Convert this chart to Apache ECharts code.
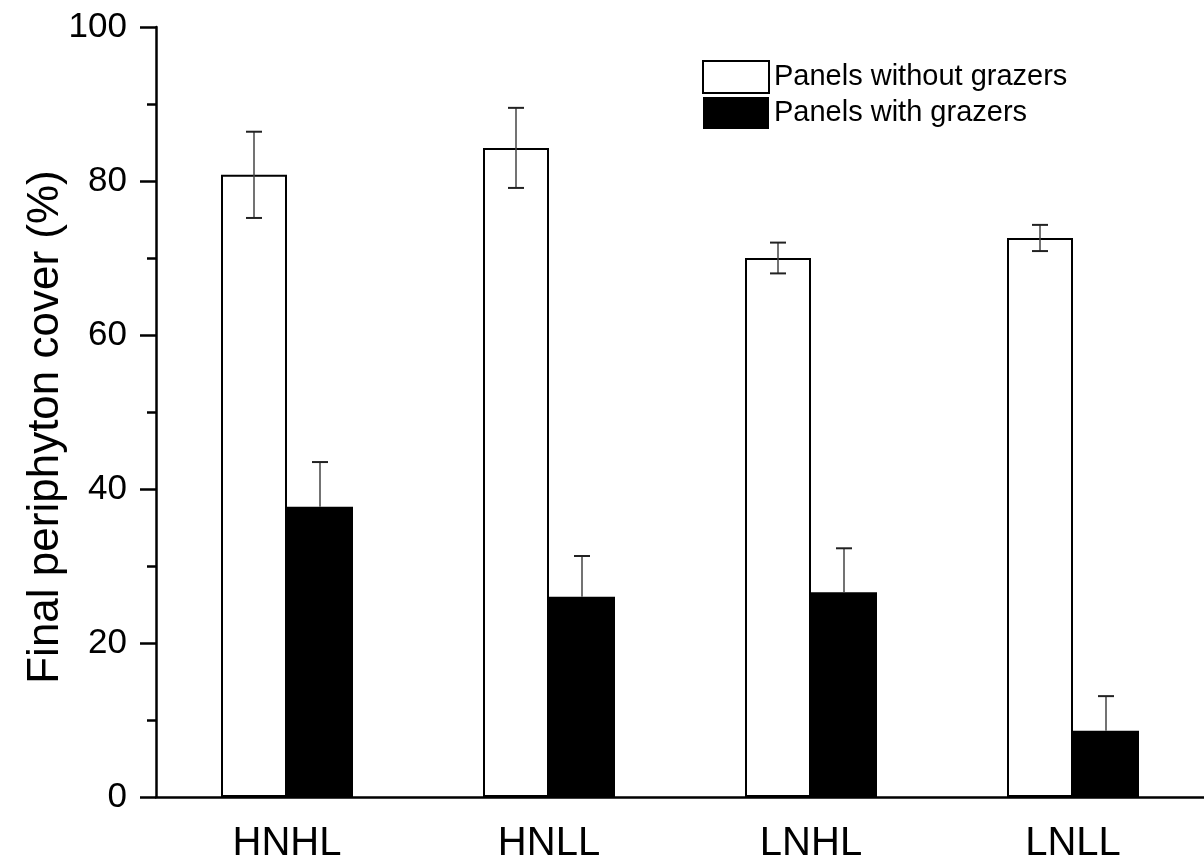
<!DOCTYPE html>
<html>
<head>
<meta charset="utf-8">
<script src="https://cdn.jsdelivr.net/npm/echarts@6/dist/echarts.min.js"></script>
<style>
html,body{margin:0;padding:0;background:#fff;}
#main{width:1204px;height:866px;}
</style>
</head>
<body>
<div id="main"></div>
<script>
const categories = ['HNHL', 'HNLL', 'LNHL', 'LNLL'];
const seriesNames = ['Panels without grazers', 'Panels with grazers'];
const withoutGrazers = [80.8, 84.3, 70.0, 72.6];
const withoutGrazersErr = [5.6, 5.2, 2.0, 1.7];
const withGrazers = [37.7, 26.0, 26.6, 8.6];
const withGrazersErr = [5.8, 5.3, 5.7, 4.5];
const yTicks = [0, 20, 40, 60, 80, 100];

const FONT = '"Liberation Sans", Arial, sans-serif';
const BAR_W = 66;

function errSeries(values, errs, side, both) {
  return {
    type: 'custom',
    z: 5,
    silent: true,
    data: values.map((v, i) => [i, v, errs[i]]),
    encode: { x: 0, y: 1 },
    renderItem: function (params, api) {
      const i = api.value(0), v = api.value(1), e = api.value(2);
      const c = api.coord([i, v]);
      const x = c[0] + side * BAR_W / 2;
      const top = api.coord([i, v + e])[1];
      const bot = both ? api.coord([i, v - e])[1] : c[1];
      const capHalf = 8;
      const children = [
        { type: 'line', shape: { x1: x, y1: top, x2: x, y2: bot }, style: { stroke: '#444', lineWidth: 1.5 } },
        { type: 'line', shape: { x1: x - capHalf, y1: top, x2: x + capHalf, y2: top }, style: { stroke: '#222', lineWidth: 2 } }
      ];
      if (both) {
        children.push({ type: 'line', shape: { x1: x - capHalf, y1: bot, x2: x + capHalf, y2: bot }, style: { stroke: '#222', lineWidth: 2 } });
      }
      return { type: 'group', children: children };
    }
  };
}

const chart = echarts.init(document.getElementById('main'), null, { renderer: 'canvas' });
chart.setOption({
  animation: false,
  backgroundColor: '#fff',
  textStyle: { fontFamily: FONT },
  grid: { left: 156, right: 0, top: 27, bottom: 69, containLabel: false },
  legend: {
    orient: 'vertical',
    left: 697,
    top: 55,
    itemWidth: 66,
    itemHeight: 32,
    itemGap: 3,
    selectedMode: false,
    data: [
      { name: seriesNames[0], icon: 'rect' },
      { name: seriesNames[1], icon: 'rect' }
    ],
    textStyle: { fontSize: 29, color: '#000', fontFamily: FONT, padding: [0, 0, 0, 0] }
  },
  xAxis: {
    type: 'category',
    data: categories,
    axisLine: { show: true, lineStyle: { color: '#000', width: 2.5 } },
    axisTick: { show: false },
    axisLabel: { fontSize: 40, color: '#000', margin: 27, fontFamily: FONT },
    splitLine: { show: false }
  },
  yAxis: {
    type: 'value',
    min: 0,
    max: 100,
    interval: 20,
    name: 'Final periphyton cover (%)',
    nameLocation: 'middle',
    nameRotate: 90,
    nameGap: 88,
    nameMoveOverlap: false,
    nameTextStyle: { fontSize: 44, color: '#000', fontFamily: FONT, padding: [0, 30, 0, 0] },
    axisLine: { show: true, lineStyle: { color: '#000', width: 2.5 } },
    axisTick: { show: true, length: 16, inside: false, lineStyle: { color: '#000', width: 2.5 } },
    minorTick: { show: true, splitNumber: 2, length: 9, lineStyle: { color: '#000', width: 2.5 } },
    axisLabel: { fontSize: 35, color: '#000', margin: 29, fontFamily: FONT,
      formatter: v => yTicks.includes(v) ? String(v) : '' },
    splitLine: { show: false },
    minorSplitLine: { show: false }
  },
  series: [
    {
      name: seriesNames[0],
      type: 'bar',
      data: withoutGrazers,
      barWidth: BAR_W,
      barGap: '0%',
      itemStyle: { color: '#fff', borderColor: '#000', borderWidth: 2 },
      z: 2
    },
    {
      name: seriesNames[1],
      type: 'bar',
      data: withGrazers,
      barWidth: BAR_W,
      barGap: '0%',
      itemStyle: { color: '#000', borderColor: '#000', borderWidth: 0 },
      z: 2
    },
    errSeries(withoutGrazers, withoutGrazersErr, -1, true),
    errSeries(withGrazers, withGrazersErr, 1, false)
  ]
});
</script>
</body>
</html>
